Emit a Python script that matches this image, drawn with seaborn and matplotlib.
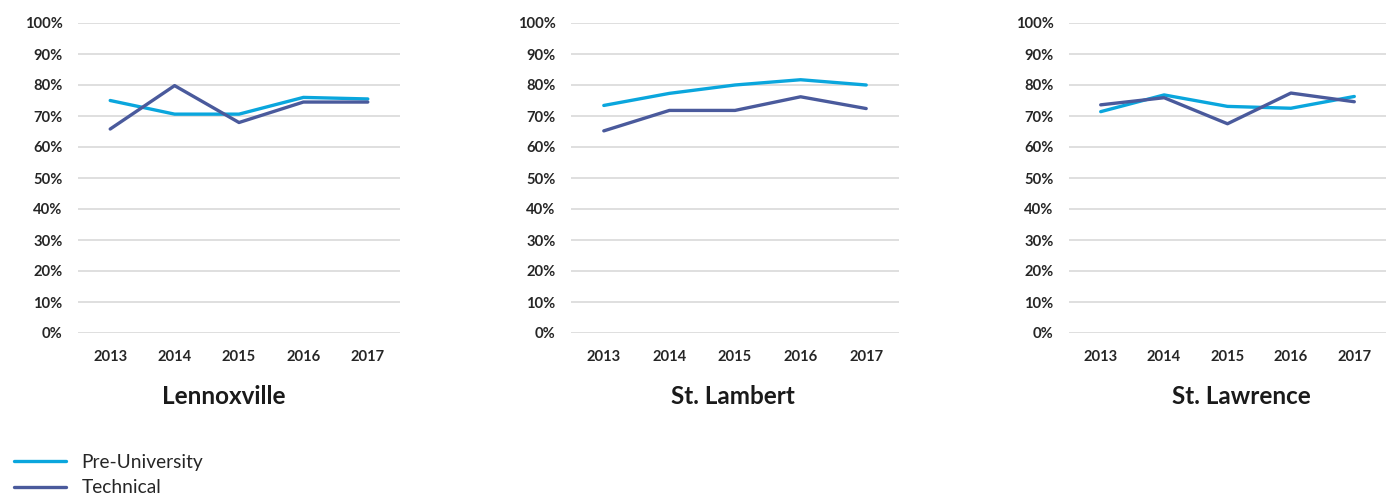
import matplotlib
matplotlib.use("Agg")
import matplotlib.pyplot as plt
from matplotlib.lines import Line2D
import seaborn as sns
import pandas as pd

years = ["2013", "2014", "2015", "2016", "2017"]
campuses = ["Lennoxville", "St. Lambert", "St. Lawrence"]
series_names = ["Pre-University", "Technical"]

lennoxville_pre = [75.0, 70.6, 70.6, 76.0, 75.5]
lennoxville_tech = [65.8, 79.8, 67.9, 74.5, 74.5]
lambert_pre = [73.4, 77.3, 80.0, 81.7, 80.0]
lambert_tech = [65.2, 71.8, 71.8, 76.2, 72.4]
lawrence_pre = [71.4, 76.8, 73.1, 72.5, 76.3]
lawrence_tech = [73.6, 75.9, 67.5, 77.4, 74.6]

data = {
    "Lennoxville": (lennoxville_pre, lennoxville_tech),
    "St. Lambert": (lambert_pre, lambert_tech),
    "St. Lawrence": (lawrence_pre, lawrence_tech),
}

colors = {"Pre-University": "#0AA6DD", "Technical": "#4A5A9C"}

sns.set_theme(style="white")
plt.rcParams["font.family"] = ["Lato", "DejaVu Sans"]

fig = plt.figure(figsize=(13.88, 4.97), dpi=100)
W, H = 1388, 497

axes_px = [(78, 400), (571, 899), (1069, 1386)]
top_px, bot_px = 23, 333
title_x = [224, 733, 1241]

for i, campus in enumerate(campuses):
    x0, x1 = axes_px[i]
    ax = fig.add_axes([x0 / W, 1 - bot_px / H, (x1 - x0) / W, (bot_px - top_px) / H])
    pre, tech = data[campus]
    df = pd.DataFrame({
        "Year": years * 2,
        "Value": pre + tech,
        "Series": [series_names[0]] * 5 + [series_names[1]] * 5,
    })
    sns.lineplot(data=df, x="Year", y="Value", hue="Series", palette=colors,
                 linewidth=2.4, ax=ax, legend=False, sort=False)
    ax.set_ylim(0, 100)
    ax.set_xlim(-0.5, 4.5)
    ax.set_yticks(range(0, 101, 10))
    ax.set_yticklabels([f"{v}%" for v in range(0, 101, 10)])
    ax.grid(axis="y", color="#D9D9D9", linewidth=1.2)
    ax.grid(axis="x", visible=False)
    ax.set_axisbelow(True)
    for s in ax.spines.values():
        s.set_visible(False)
    ax.tick_params(axis="both", length=0, labelsize=10.6, colors="#262626")
    ax.tick_params(axis="y", pad=11)
    ax.tick_params(axis="x", pad=12)
    for lbl in ax.get_xticklabels() + ax.get_yticklabels():
        lbl.set_fontweight("bold")
    ax.set_xlabel("")
    ax.set_ylabel("")
    fig.text(title_x[i] / W, 1 - 397 / H, campus, ha="center", va="center",
             fontsize=17.5, fontweight="bold", color="#1a1a1a")

handles = [Line2D([0], [0], color=colors[s], linewidth=2.4) for s in series_names]
fig.legend(handles, series_names, loc="upper left", bbox_to_anchor=(4 / W, 1 - 444 / H),
           frameon=False, fontsize=13.8, handlelength=2.75, handletextpad=0.8,
           labelspacing=0.45, borderaxespad=0.3, borderpad=0.2)

fig.savefig("out.png", dpi=100, facecolor="white")
